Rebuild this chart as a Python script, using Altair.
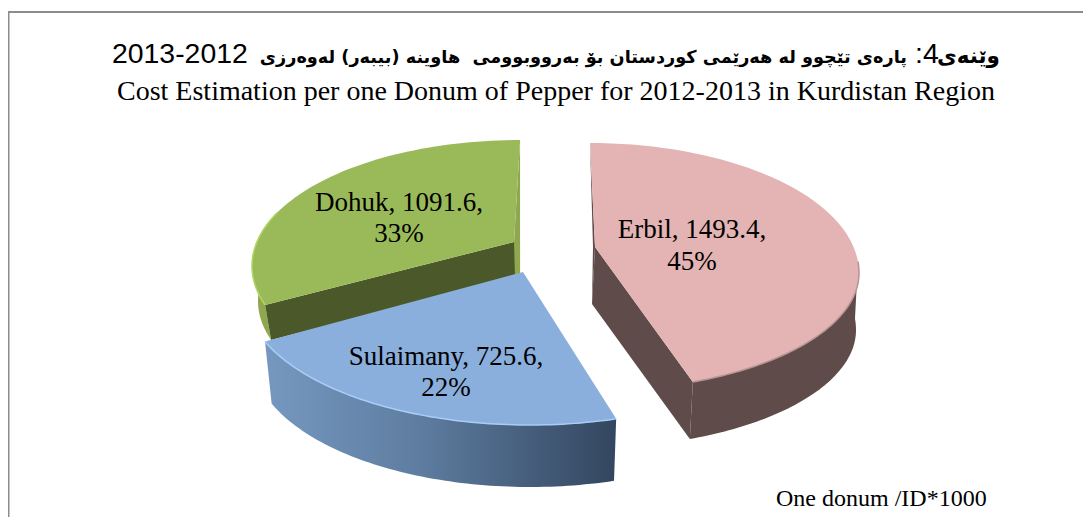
import math
import altair as alt
import pandas as pd

# --- chart values
names = ["Erbil", "Sulaimany", "Dohuk"]
values = [1493.4, 725.6, 1091.6]
percents = [45, 22, 33]
title_ku = "پارەی تێچوو لە هەرێمی کوردستان بۆ بەرووبوومی \u00a0هاوینە (بیبەر) لەوەرزی"
title_ku_a = "وێنەی"
title_num = ":4"
title_years = "2013-2012"
subtitle = "Cost Estimation per one Donum of Pepper for 2012-2013 in Kurdistan Region"
note = "One donum /ID*1000"

# --- faux-3D layout of each exploded slice (pixels of the page)
total = sum(values)
LAY = {
    "Erbil": dict(apex=(595, 247), c=(590, 273), r=(269, 130, 118), t0=-90, k=0.97, shift=(-3, 57), sc=1.0),
    "Sulaimany": dict(apex=(523, 272), c=(530, 293), r=(285, 132, 132), t0=72.4, k=1.09, shift=(0, 62), sc=0.975),
    "Dohuk": dict(apex=(514, 242), c=(520, 266), r=(268, 126, 126), t0=162, k=0.91, shift=(6, 35), sc=1.0),
}
LABELS = {"Erbil": (692, 238, 270), "Sulaimany": (446, 365, 396), "Dohuk": (399, 211, 242)}


def pt(l, t):
    a = math.radians(t)
    s = math.sin(a)
    return (l["c"][0] + l["r"][0] * math.cos(a), l["c"][1] + (l["r"][2] if s > 0 else l["r"][1]) * s)


def low(l, p):
    cx = l["c"][0]
    return (cx + (p[0] - cx) * l["sc"] + l["shift"][0], p[1] + l["shift"][1])


def arc(l, a, b, n=70):
    return [pt(l, a + (b - a) * i / n) for i in range(n + 1)]


polys = {}
for name, v in zip(names, values):
    l = LAY[name]
    t0 = l["t0"]
    t1 = t0 + 360 * v / total * l["k"]
    l["t1"] = t1
    polys[name] = arc(l, t0, t1)


def sweep(l, a, b):
    top = arc(l, a, b)
    return top + [low(l, p) for p in reversed(top)]


XS = alt.Scale(domain=[8, 1083], range=[0, 1075], nice=False, zero=False)
YS = alt.Scale(domain=[8, 517], range=[0, 509], nice=False, zero=False)
X = alt.X("x:Q", scale=XS, axis=None)
Y = alt.Y("y:Q", scale=YS, axis=None)


def shape(pts, fill):
    df = pd.DataFrame(pts, columns=["x", "y"])
    df["i"] = range(len(df))
    return alt.Chart(df).mark_line(fill=fill, strokeWidth=0, stroke="transparent").encode(
        x=X, y=Y, order=alt.Order("i:Q"))


def rim(pts, color, w=1.5):
    df = pd.DataFrame(pts, columns=["x", "y"])
    df["i"] = range(len(df))
    return alt.Chart(df).mark_line(color=color, strokeWidth=w).encode(
        x=X, y=Y, order=alt.Order("i:Q"))


layers = []
frame = [(8.5, 530), (8.5, 12), (1100, 12)]
layers.append(rim(frame, "#8c8c8c", 2))

# Dohuk (back)
d = LAY["Dohuk"]
a = d["apex"]
end = polys["Dohuk"][-1]
layers.append(shape([end, (end[0], a[1] + d["shift"][1] - 1), (a[0], a[1] + d["shift"][1]), a], "#8fa84f"))
layers.append(shape(sweep(d, d["t0"], 205), "#8fa84f"))
st = polys["Dohuk"][0]
layers.append(shape([a, st, low(d, st), (a[0] + 1, a[1] + d["shift"][1])], "#4b5829"))
layers.append(shape([a] + polys["Dohuk"], "#9aba59"))
layers.append(rim(arc(d, d["t0"], 205), "#b4d565", 1.5))

# Sulaimany
s = LAY["Sulaimany"]
layers.append(shape(sweep(s, s["t0"], s["t1"]), alt.Gradient(
    gradient="linear", x1=0, x2=1, y1=0, y2=0,
    stops=[alt.GradientStop(color="#7698c0", offset=0), alt.GradientStop(color="#5d7c9f", offset=0.45),
           alt.GradientStop(color="#33465f", offset=1)])))
layers.append(shape([s["apex"]] + polys["Sulaimany"], "#8aafdd"))
layers.append(rim(polys["Sulaimany"], "#a9cdf6", 1.5))

# Erbil (front right)
e = LAY["Erbil"]
a = e["apex"]
st, end = polys["Erbil"][0], polys["Erbil"][-1]
layers.append(shape([st, a, low(e, a), (a[0] - 2, a[1])], "#5f4b49"))
layers.append(shape(sweep(e, -5, e["t1"]), "#5f4b49"))
layers.append(shape([a, end, low(e, end), low(e, a)], "#5f4b49"))
layers.append(shape([a] + polys["Erbil"], "#e3b4b3"))
layers.append(rim(arc(e, -5, e["t1"]), "#b59493", 1.5))


def text(rows, font, size, align="center", weight="normal"):
    df = pd.DataFrame(rows, columns=["x", "y", "t"])
    return alt.Chart(df).mark_text(font=font, fontSize=size, align=align, baseline="alphabetic",
                                   fontWeight=weight, color="#000000").encode(
        x=X, y=Y, text="t:N")


rows = []
for name, v, p in zip(names, values, percents):
    x, y1, y2 = LABELS[name]
    rows.append((x, y1, f"{name}, {v},"))
    rows.append((x, y2, f"{p}%"))
layers.append(text(rows, "Liberation Serif", 27))
layers.append(text([(556, 100, subtitle)], "Liberation Serif", 28))
layers.append(text([(776, 506, note)], "Liberation Serif", 24, align="left"))
layers.append(text([(112, 63, title_years)], "Liberation Sans", 28.4, align="left"))
layers.append(text([(915, 63, title_num)], "Liberation Sans", 28.4, align="left"))
layers.append(text([(907, 63, title_ku)], "DejaVu Sans", 17.7, align="right", weight="bold"))
layers.append(text([(1000, 63, title_ku_a)], "DejaVu Sans", 21.5, align="right", weight="bold"))

chart = alt.layer(*layers).properties(
    width=1075, height=509, padding=0, background="#ffffff",
    autosize=alt.AutoSizeParams(type="none"),
).configure_view(stroke=None)

chart.save("out.html", embed_options={"renderer": "svg", "actions": False})
